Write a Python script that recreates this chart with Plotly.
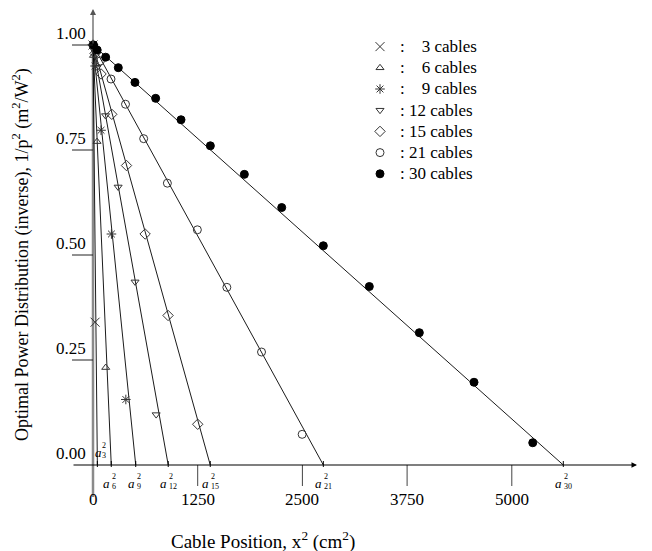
import plotly.graph_objects as go

# ---------------- data ----------------
CABLES = [3, 6, 9, 12, 15, 21, 30]

# end point of each fitted line on the x axis (a_n^2, cm^2)
A_SQ = [52, 218, 510, 898, 1400, 2750, 5615]

# measured points: x^2 (cm^2) and 1/p^2
X3 = [0, 25]
Y3 = [1.0, 0.34]
X6 = [6, 48, 152]
Y6 = [0.975, 0.77, 0.232]
X9 = [0, 25, 96, 220, 392]
Y9 = [1.0, 0.95, 0.797, 0.55, 0.156]
X12 = [6, 50, 150, 300, 502, 754]
Y12 = [0.99, 0.947, 0.832, 0.662, 0.436, 0.12]
X15 = [0, 25, 96, 224, 400, 622, 896, 1250]
Y15 = [1.0, 0.98, 0.931, 0.835, 0.713, 0.55, 0.356, 0.097]
X21 = [0, 25, 88, 215, 388, 605, 888, 1246, 1598, 2012, 2497]
Y21 = [1.0, 0.99, 0.962, 0.919, 0.859, 0.777, 0.671, 0.560, 0.423, 0.269, 0.073]
X30 = [6, 50, 151, 302, 501, 748, 1051, 1401, 1807, 2253, 2750, 3299, 3896, 4549, 5250]
Y30 = [1.0, 0.988, 0.971, 0.946, 0.911, 0.873, 0.822, 0.760, 0.692, 0.613, 0.522,
       0.425, 0.315, 0.197, 0.053]

SERIES_X = [X3, X6, X9, X12, X15, X21, X30]
SERIES_Y = [Y3, Y6, Y9, Y12, Y15, Y21, Y30]

X_TICKS = [0, 1250, 2500, 3750, 5000]
Y_TICKS = [0.0, 0.25, 0.5, 0.75, 1.0]
Y_TICK_TEXT = ["0.00", "0.25", "0.50", "0.75", "1.00"]

# ---------------- styles ----------------
SYMBOLS = ["x-thin-open", "triangle-up-open", "asterisk-open", "triangle-down-open",
           "diamond-open", "circle-open", "circle"]
SIZES = [9, 7, 8, 7, 8, 8, 8]
NB = "\u00a0"
LABEL_SPACES = [NB * 4, NB * 4, NB * 4, NB, NB, NB, NB]
MCOL = "#333333"
SERIF = "Liberation Serif"

W, H = 652, 551
OFF = 8                      # page body margin of the browser
ML, MR, MT, MB = 64, 20, 0, 59
PW, PH = W - ML - MR, H - MT - MB
PX_X = 1250 / 104.7          # data units per pixel horizontally
PX_Y = 1 / 420.0             # data units per pixel vertically
X_RANGE = [-21 * PX_X, 547 * PX_X]
Y_RANGE = [-35 * PX_Y, 457 * PX_Y]


def paper_x(wx):
    return (wx - OFF - ML) / PW


def paper_y(wy):
    return 1 - (wy - OFF - MT) / PH


fig = go.Figure()

# fitted lines
for a2 in A_SQ:
    fig.add_trace(go.Scatter(x=[0, a2], y=[1.0, 0.0], mode="lines",
                             line=dict(color="black", width=0.9),
                             showlegend=False, hoverinfo="skip"))

# markers
for n, xs, ys, sym, sz, sp in zip(CABLES, SERIES_X, SERIES_Y, SYMBOLS, SIZES, LABEL_SPACES):
    col = "black" if sym == "circle" else MCOL
    fig.add_trace(go.Scatter(
        x=xs, y=ys, mode="markers",
        marker=dict(symbol=sym, size=sz, color=col, line=dict(width=1, color=col)),
        name='<span style="font-size:17px">:' + sp + f"{n} cables</span>"))

shapes = []
ann = []

# y axis (thick grey) and its arrow
shapes.append(dict(type="line", xref="x", yref="y", x0=0, x1=0, y0=-32 * PX_Y, y1=1.0,
                   line=dict(color="#8a8a8a", width=2.5), layer="below"))
ann.append(dict(xref="x", yref="y", axref="x", ayref="y", x=0, y=456 * PX_Y, ax=0, ay=1.0,
                text="", showarrow=True, arrowhead=2, arrowsize=1, arrowwidth=1.2,
                arrowcolor="#555555"))
# x axis with arrow
ann.append(dict(xref="x", yref="y", axref="x", ayref="y", x=544 * PX_X, y=0,
                ax=-21 * PX_X, ay=0, text="", showarrow=True, arrowhead=2, arrowsize=1,
                arrowwidth=1.1, arrowcolor="black"))

# y ticks and labels
for v, t in zip(Y_TICKS, Y_TICK_TEXT):
    if v > 0:
        shapes.append(dict(type="line", xref="x", yref="y", x0=-21 * PX_X, x1=0, y0=v, y1=v,
                           line=dict(color="#222222", width=1)))
    ann.append(dict(xref="x", yref="y", x=0, y=v, text=t, showarrow=False,
                    xanchor="right", yanchor="middle", xshift=-5, yshift=12,
                    font=dict(family=SERIF, size=17, color="black")))

# x ticks and labels
for v in X_TICKS:
    if v > 0:
        shapes.append(dict(type="line", xref="x", yref="y", x0=v, x1=v, y0=0, y1=-21 * PX_Y,
                           line=dict(color="#444444", width=1)))
    ann.append(dict(xref="x", yref="y", x=v, y=0, text=str(v), showarrow=False,
                    xanchor="center", yanchor="middle", yshift=-34,
                    font=dict(family=SERIF, size=17, color="black")))

# a_n^2 marks
for n, a2 in zip(CABLES, A_SQ):
    shapes.append(dict(type="line", xref="x", yref="y", x0=a2, x1=a2, y0=-2 * PX_Y, y1=4 * PX_Y,
                       line=dict(color="black", width=1)))
    if n == 3:
        ann.append(dict(xref="x", yref="y", x=a2, y=0, text="<i>a</i>", showarrow=False,
                        xanchor="left", yanchor="middle", xshift=-4, yshift=13,
                        font=dict(family=SERIF, size=13, color="black")))
        ann.append(dict(xref="x", yref="y", x=a2, y=0, text=f"2<br>{n}", showarrow=False,
                        xanchor="left", yanchor="middle", align="left", xshift=3, yshift=15,
                        font=dict(family=SERIF, size=8, color="black")))
    else:
        ann.append(dict(xref="x", yref="y", x=a2, y=0, text="<i>a</i>", showarrow=False,
                        xanchor="right", yanchor="middle", xshift=1, yshift=-18,
                        font=dict(family=SERIF, size=13, color="black")))
        ann.append(dict(xref="x", yref="y", x=a2, y=0, text=f"2<br>{n}", showarrow=False,
                        xanchor="left", yanchor="middle", align="left", xshift=-1, yshift=-16,
                        font=dict(family=SERIF, size=8, color="black")))

# axis titles
ann.append(dict(xref="paper", yref="paper", x=paper_x(263), y=paper_y(540),
                text="Cable Position, x<sup>2</sup> (cm<sup>2</sup>)", showarrow=False,
                xanchor="center", yanchor="middle",
                font=dict(family=SERIF, size=19, color="black")))
ann.append(dict(xref="paper", yref="paper", x=paper_x(21), y=paper_y(255),
                text="Optimal Power Distribution (inverse), 1/p<sup>2</sup> (m<sup>2</sup>/W<sup>2</sup>)",
                showarrow=False, textangle=-90, xanchor="center", yanchor="middle",
                font=dict(family=SERIF, size=18, color="black")))

fig.update_layout(
    width=W, height=H,
    margin=dict(l=ML, r=MR, t=MT, b=MB),
    paper_bgcolor="white", plot_bgcolor="white",
    xaxis=dict(range=X_RANGE, visible=False),
    yaxis=dict(range=Y_RANGE, visible=False),
    shapes=shapes, annotations=ann,
    legend=dict(x=paper_x(360), y=paper_y(31),
                xanchor="left", yanchor="top", bgcolor="rgba(0,0,0,0)",
                font=dict(family=SERIF, size=14, color="black"),
                itemwidth=30, tracegroupgap=0),
    showlegend=True,
)

fig.write_html("out.html")
